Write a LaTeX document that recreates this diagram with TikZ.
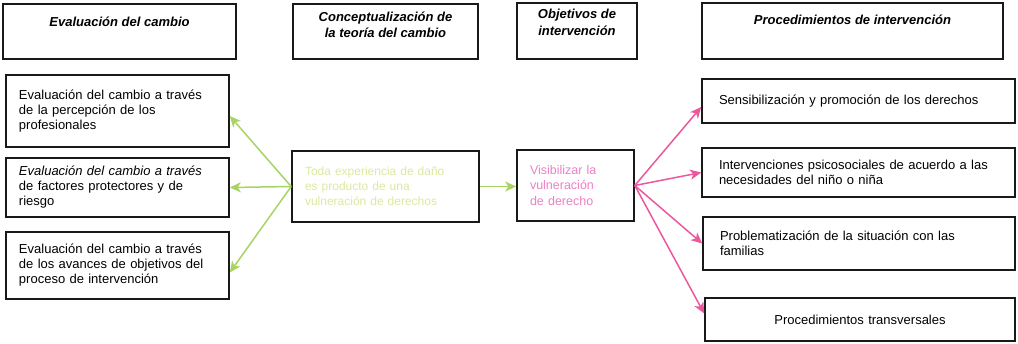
\documentclass[tikz,border=0pt]{standalone}
\usepackage{fontspec}
\setmainfont{Liberation Sans}
\usetikzlibrary{arrows.meta}
\definecolor{gArrow}{RGB}{168,212,98}
\definecolor{gText}{RGB}{218,234,160}
\definecolor{pArrow}{RGB}{236,88,158}
\definecolor{pText}{RGB}{236,128,198}
\definecolor{boxLine}{RGB}{25,25,25}
\begin{document}
\begin{tikzpicture}[x=1pt,y=-1pt,
  box/.style={draw=boxLine, line width=1.6pt, fill=white, inner ysep=0pt, align=left,
    font=\fontsize{13}{15}\selectfont},
  hdrbox/.style={draw=boxLine, line width=1.6pt, fill=white, inner sep=0pt},
  hdrtext/.style={align=center, inner sep=0pt, font=\fontsize{13}{16.5}\selectfont\bfseries\itshape},
  garrow/.style={draw=gArrow, line width=1.5pt, -{Stealth[length=11pt,width=10pt,inset=3pt]}},
  parrow/.style={draw=pArrow, line width=1.5pt, -{Stealth[length=11pt,width=10pt,inset=3pt]}}
]
\path[fill=white] (0,0) rectangle (1018,343);
\useasboundingbox (0,0) rectangle (1018,343);

% headers
\node[hdrbox, minimum width=233pt, minimum height=55pt] (h1) at (119.5,31.5) {};
\node[hdrtext] (h1t) at (119.5,22) {Evaluación del cambio};
\node[hdrbox, minimum width=185pt, minimum height=55pt] (h2) at (385.5,31.5) {};
\node[hdrtext] (h2t) at (385.5,25) {Conceptualización de\\la teoría del cambio};
\node[hdrbox, minimum width=120pt, minimum height=56pt] (h3) at (577,31) {};
\node[hdrtext] (h3t) at (577,22.5) {Objetivos de\\intervención};
\node[hdrbox, minimum width=301pt, minimum height=56pt] (h4) at (852.5,31) {};
\node[hdrtext] (h4t) at (852.5,20) {Procedimientos de intervención};

% left boxes
\node[box, text width=197pt, inner xsep=13pt, minimum height=72pt] (l1) at (117.5,111)
  {Evaluación del cambio a través\\de la percepción de los\\profesionales};
\node[box, text width=197pt, inner xsep=13pt, minimum height=59pt] (l2) at (117.5,187.5)
  {\textit{Evaluación del cambio a través}\\de factores protectores y de\\riesgo};
\node[box, text width=197pt, inner xsep=13pt, minimum height=67pt] (l3) at (117.5,265.5)
  {Evaluación del cambio a través\\de los avances de objetivos del\\proceso de intervención};

% central boxes
\node[box, text width=161pt, inner xsep=13pt, minimum height=71pt, text=gText,
  font=\fontsize{12}{15}\selectfont] (c) at (385.5,186.5)
  {Toda experiencia de daño\\es producto de una\\vulneración de derechos};
\node[box, text width=91pt, inner xsep=13pt, minimum height=71pt, text=pText,
  font=\fontsize{12.5}{15.5}\selectfont] (p) at (575.5,185.5)
  {Visibilizar la\\vulneración\\de derecho};

% right boxes
\node[box, text width=279pt, inner xsep=17pt, minimum height=44pt] (r1) at (858.5,101)
  {Sensibilización y promoción de los derechos};
\node[box, text width=279pt, inner xsep=17pt, minimum height=49pt] (r2) at (858.5,172.5)
  {Intervenciones psicosociales de acuerdo a las\\necesidades del niño o niña};
\node[box, text width=278pt, inner xsep=17pt, minimum height=53pt] (r3) at (859,243.5)
  {Problematización de la situación con las\\familias};
\node[box, text width=276pt, inner xsep=17pt, minimum height=43pt, align=center] (r4) at (860,319.5)
  {Procedimientos transversales};

% green connectors
\draw[garrow] (c.west) -- ([yshift=-5pt]l1.east);
\draw[garrow] (c.west) -- (l2.east);
\draw[garrow] (c.west) -- ([yshift=-7pt]l3.east);
\draw[garrow] (c.east) -- (c.east -| p.west);

% pink connectors
\draw[parrow] (p.east) -- ([yshift=-6pt]r1.west);
\draw[parrow] (p.east) -- (r2.west);
\draw[parrow] (p.east) -- (r3.west);
\draw[parrow] (p.east) -- ([yshift=6pt]r4.west);
\end{tikzpicture}
\end{document}
